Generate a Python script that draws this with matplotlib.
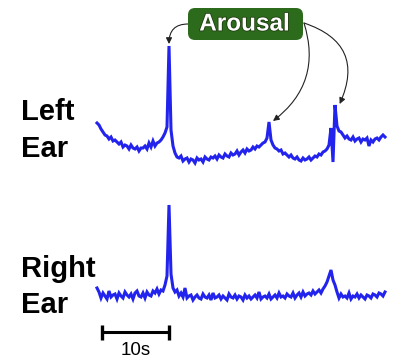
import matplotlib
matplotlib.use("Agg")
import matplotlib.pyplot as plt
import numpy as np
from matplotlib.patches import FancyBboxPatch
import matplotlib.patheffects as pe

plt.rcParams["font.family"] = ["Liberation Sans", "DejaVu Sans"]

# ---------------------------------------------------------------------------
# Ear EEG traces, one sample every 0.3 s (arbitrary amplitude units)
# ---------------------------------------------------------------------------
dt = 0.3
left_ear = [
    47, 45, 41, 38, 35, 34, 31, 33, 29, 30, 28, 26, 28, 23, 25, 24, 21, 25, 22, 21,
    23, 19, 22, 22, 24, 21, 27, 23, 29, 24, 27, 28, 30, 33, 37, 43, 124, 40, 24, 17,
    13, 12, 14, 9, 11, 12, 8, 11, 10, 7, 12, 10, 11, 8, 13, 11, 10, 13, 12, 14,
    11, 15, 13, 12, 16, 14, 13, 17, 15, 16, 19, 15, 18, 20, 17, 21, 19, 20, 23, 21,
    24, 23, 25, 27, 28, 32, 48, 30, 25, 22, 21, 19, 20, 16, 17, 15, 13, 15, 12, 11,
    13, 10, 9, 12, 10, 11, 13, 10, 12, 14, 13, 16, 15, 18, 19, 21, 25, 42, 8, 65,
    44, 39, 38, 35, 32, 34, 31, 30, 33, 29, 31, 32, 28, 31, 30, 32, 24, 30, 28, 31,
    32, 30, 33, 35, 33,
]
right_ear = [
    22, 18, 12, 17, 14, 11, 19, 13, 15, 16, 11, 17, 14, 12, 18, 15, 13, 16, 11, 17,
    19, 14, 13, 17, 12, 18, 15, 14, 19, 17, 21, 16, 20, 19, 25, 34, 105, 36, 22, 18,
    20, 14, 17, 13, 22, 12, 14, 15, 10, 13, 15, 12, 11, 16, 13, 12, 15, 10, 17, 12,
    13, 15, 11, 14, 12, 10, 16, 13, 12, 15, 11, 14, 13, 10, 15, 12, 14, 11, 13, 15,
    12, 18, 11, 13, 14, 12, 16, 11, 13, 15, 12, 17, 13, 14, 12, 16, 14, 13, 17, 12,
    15, 17, 13, 18, 14, 16, 17, 15, 19, 16, 18, 20, 17, 21, 24, 28, 34, 40, 30, 25,
    18, 12, 16, 13, 14, 12, 17, 11, 14, 13, 16, 12, 15, 13, 11, 15, 14, 12, 16, 15,
    13, 17, 16, 14, 18,
]
arousal_idx = [36, 86, 119]      # samples marked as arousals on the left ear
scalebar_s = 10

t = np.arange(len(left_ear)) * dt
trace_color = "#2323ee"

fig = plt.figure(figsize=(3.97, 3.61), dpi=100)
W, H = 397, 361


def px_axes(x0, x1, y_top, y_bot):
    return fig.add_axes([x0 / W, 1 - y_bot / H, (x1 - x0) / W, (y_bot - y_top) / H])


ax_l = px_axes(97, 385, 40, 170)
ax_r = px_axes(97, 385, 200, 310)
for ax, sig, top in ((ax_l, left_ear, 130), (ax_r, right_ear, 110)):
    ax.plot(t, sig, color=trace_color, lw=2.2, clip_on=False, solid_joinstyle="miter")
    ax.set_xlim(0, t[-1])
    ax.set_ylim(0, top)
    ax.axis("off")

# scale bar under the right-ear trace
y_bar, tick_half = -22, 7.5
x0 = 0.75
ax_r.plot([x0, x0 + scalebar_s], [y_bar, y_bar], color="black", lw=2.2,
          clip_on=False, solid_capstyle="butt")
for xs in (x0, x0 + scalebar_s):
    ax_r.plot([xs, xs], [y_bar - tick_half, y_bar + tick_half], color="black",
              lw=2.4, clip_on=False, solid_capstyle="butt")
ax_r.text(x0 + scalebar_s / 2, y_bar - 10, f"{scalebar_s}s", ha="center", va="top",
          fontsize=13.5, clip_on=False)

# channel labels
for label, y in (("Left", 120), ("Ear", 157), ("Right", 277), ("Ear", 313)):
    fig.text(21 / W, 1 - y / H, label, fontsize=21, fontweight="bold",
             ha="left", va="baseline")

# "Arousal" callout box (inches, dpi = 100)
box = FancyBboxPatch((1.88, 3.21), 1.15, 0.32,
                     boxstyle="round,pad=0,rounding_size=0.07",
                     transform=fig.dpi_scale_trans, facecolor="#2d6b1c",
                     edgecolor="none", zorder=5)
fig.patches.append(box)
fig.text(2.445, 3.37, "Arousal", transform=fig.dpi_scale_trans, fontsize=17.5,
         fontweight="bold", color="white", ha="center", va="center", zorder=6,
         path_effects=[pe.withStroke(linewidth=1.2, foreground="#1e3d10")])

arrow = dict(arrowstyle="-|>", color="#222222", lw=0.8, mutation_scale=9,
             shrinkA=0, shrinkB=0)
i0, i1, i2 = arousal_idx
ax_l.annotate("", xy=(t[i0], left_ear[i0] + 2), xytext=(1.88, 3.37),
              textcoords=fig.dpi_scale_trans,
              arrowprops=dict(arrow, connectionstyle="angle3,angleA=0,angleB=90"))
ax_l.annotate("", xy=(t[i1] + 0.6, left_ear[i1] + 1), xytext=(3.04, 3.38),
              textcoords=fig.dpi_scale_trans,
              arrowprops=dict(arrow, connectionstyle="arc3,rad=-0.35"))
ax_l.annotate("", xy=(t[i2] + 0.7, left_ear[i2] + 1), xytext=(3.04, 3.38),
              textcoords=fig.dpi_scale_trans,
              arrowprops=dict(arrow, connectionstyle="arc3,rad=-0.55"))

fig.savefig("out.png", dpi=100)
